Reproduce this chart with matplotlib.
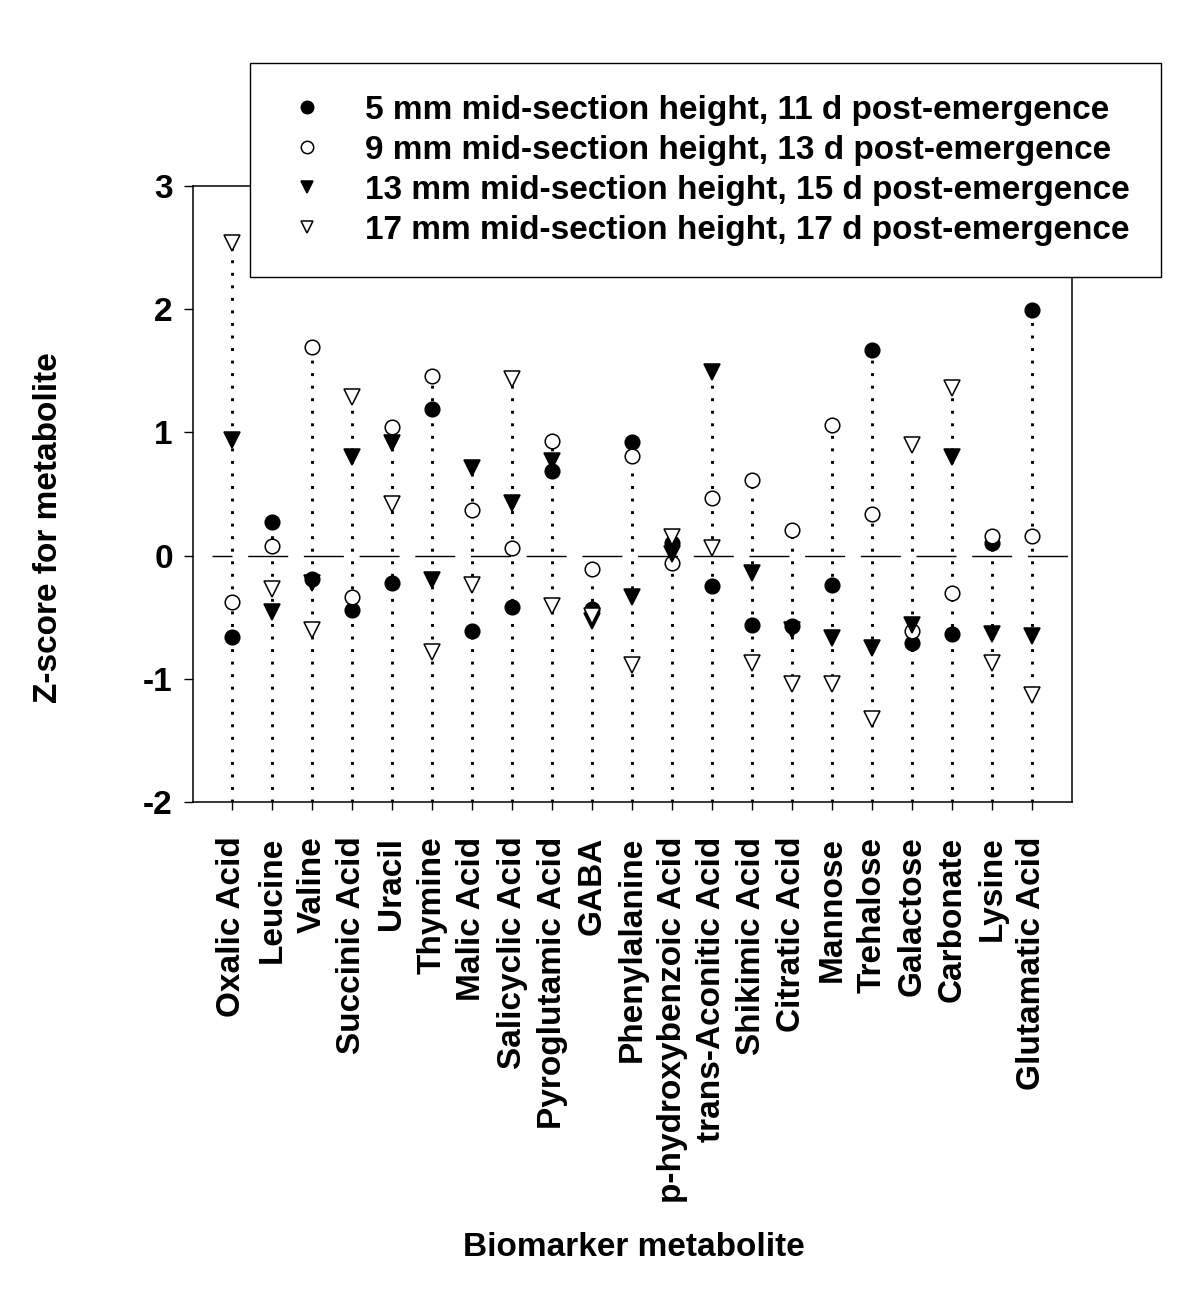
import matplotlib
matplotlib.use("Agg")
import matplotlib.pyplot as plt
import numpy as np

plt.rcParams['font.family'] = ['Liberation Sans', 'DejaVu Sans']
plt.rcParams['font.weight'] = 'bold'

categories = ["Oxalic Acid", "Leucine", "Valine", "Succinic Acid", "Uracil", "Thymine",
              "Malic Acid", "Salicyclic Acid", "Pyroglutamic Acid", "GABA", "Phenylalanine",
              "p-hydroxybenzoic Acid", "trans-Aconitic Acid", "Shikimic Acid", "Citratic Acid",
              "Mannose", "Trehalose", "Galactose", "Carbonate", "Lysine", "Glutamatic Acid"]

mm5 = [-0.66, 0.27, -0.19, -0.44, -0.22, 1.19, -0.61, -0.42, 0.69, -0.43, 0.92,
       0.10, -0.25, -0.56, -0.57, -0.24, 1.67, -0.71, -0.64, 0.10, 1.99]
mm9 = [-0.38, 0.08, 1.69, -0.34, 1.04, 1.46, 0.37, 0.06, 0.93, -0.11, 0.81,
       -0.06, 0.47, 0.61, 0.21, 1.06, 0.34, -0.61, -0.30, 0.16, 0.16]
mm13 = [0.94, -0.46, -0.22, 0.80, 0.91, -0.20, 0.71, 0.43, 0.77, -0.53, -0.34,
        0.01, 1.49, -0.14, -0.60, -0.67, -0.75, -0.56, 0.80, -0.64, -0.65]
mm17 = [2.54, -0.27, -0.60, 1.29, 0.42, -0.78, -0.24, 1.43, -0.41, -0.49, -0.89,
        0.15, 0.06, -0.87, -1.04, -1.04, -1.33, 0.90, 1.36, -0.87, -1.13]

labels = ["5 mm mid-section height, 11 d post-emergence",
          "9 mm mid-section height, 13 d post-emergence",
          "13 mm mid-section height, 15 d post-emergence",
          "17 mm mid-section height, 17 d post-emergence"]

yticks = [-2, -1, 0, 1, 2, 3]

W, H = 1200, 1290
fig = plt.figure(figsize=(W / 100, H / 100), dpi=100)
ax = fig.add_axes([193 / W, 1 - 802 / H, (1072 - 193) / W, (802 - 186) / H])

x = np.arange(len(categories))
series = [mm5, mm9, mm13, mm17]
tops = np.max(np.array(series), axis=0)

# dotted drop lines from bottom to highest point
ax.vlines(x, -2, tops, colors='black', linewidth=2.1,
          linestyles=[(0, (1, 3.3))], zorder=1)
# dashed zero line
ax.plot([-0.5, 21], [0, 0], color='black', linewidth=1.0,
        linestyle=(14.4, (28.8, 11.3)), zorder=1)

ms = 10.5
mew = 1.1
ax.plot(x, mm5, linestyle='none', marker='o', ms=ms, mfc='black', mec='black', mew=mew,
        label=labels[0], zorder=3)
ax.plot(x, mm9, linestyle='none', marker='o', ms=ms, mfc='white', mec='black', mew=mew,
        label=labels[1], zorder=3)
ax.plot(x, mm13, linestyle='none', marker='v', ms=ms + 0.5, mfc='black', mec='black', mew=mew,
        label=labels[2], zorder=3)
ax.plot(x, mm17, linestyle='none', marker='v', ms=ms + 0.5, mfc='white', mec='black', mew=mew,
        label=labels[3], zorder=3)

ax.set_xlim(-0.975, 21.0)
ax.set_ylim(-2, 3)
ax.set_yticks(yticks)
ax.set_yticklabels([str(v) for v in yticks], fontsize=24, fontweight='bold')
ax.set_xticks(x)
ax.set_xticklabels(categories, rotation=90, fontsize=24, fontweight='bold', va='top', ha='center')
ax.tick_params(axis='x', direction='out', length=6, width=1, pad=19)
ax.tick_params(axis='y', direction='out', length=6.5, width=1, pad=8)
for s in ax.spines.values():
    s.set_linewidth(1.1)

ax.set_ylabel("Z-score for metabolite", fontsize=24, fontweight='bold')
ax.yaxis.set_label_coords(-0.147, 0.445)
fig.text(634 / W, 1 - 1247 / H, "Biomarker metabolite", fontsize=24, fontweight='bold',
         ha='center', va='center')

leg = fig.legend(loc='upper left', bbox_to_anchor=(250 / W, 1 - 63 / H),
                 prop={'size': 24, 'weight': 'bold'}, frameon=True, fancybox=False,
                 framealpha=1, edgecolor='black', borderpad=0.95, labelspacing=0.27,
                 handlelength=1.5, handletextpad=1.0, markerscale=0.85, borderaxespad=0)
leg.get_frame().set_linewidth(1.0)
leg.set_zorder(10)

fig.savefig("out.png", dpi=100)
